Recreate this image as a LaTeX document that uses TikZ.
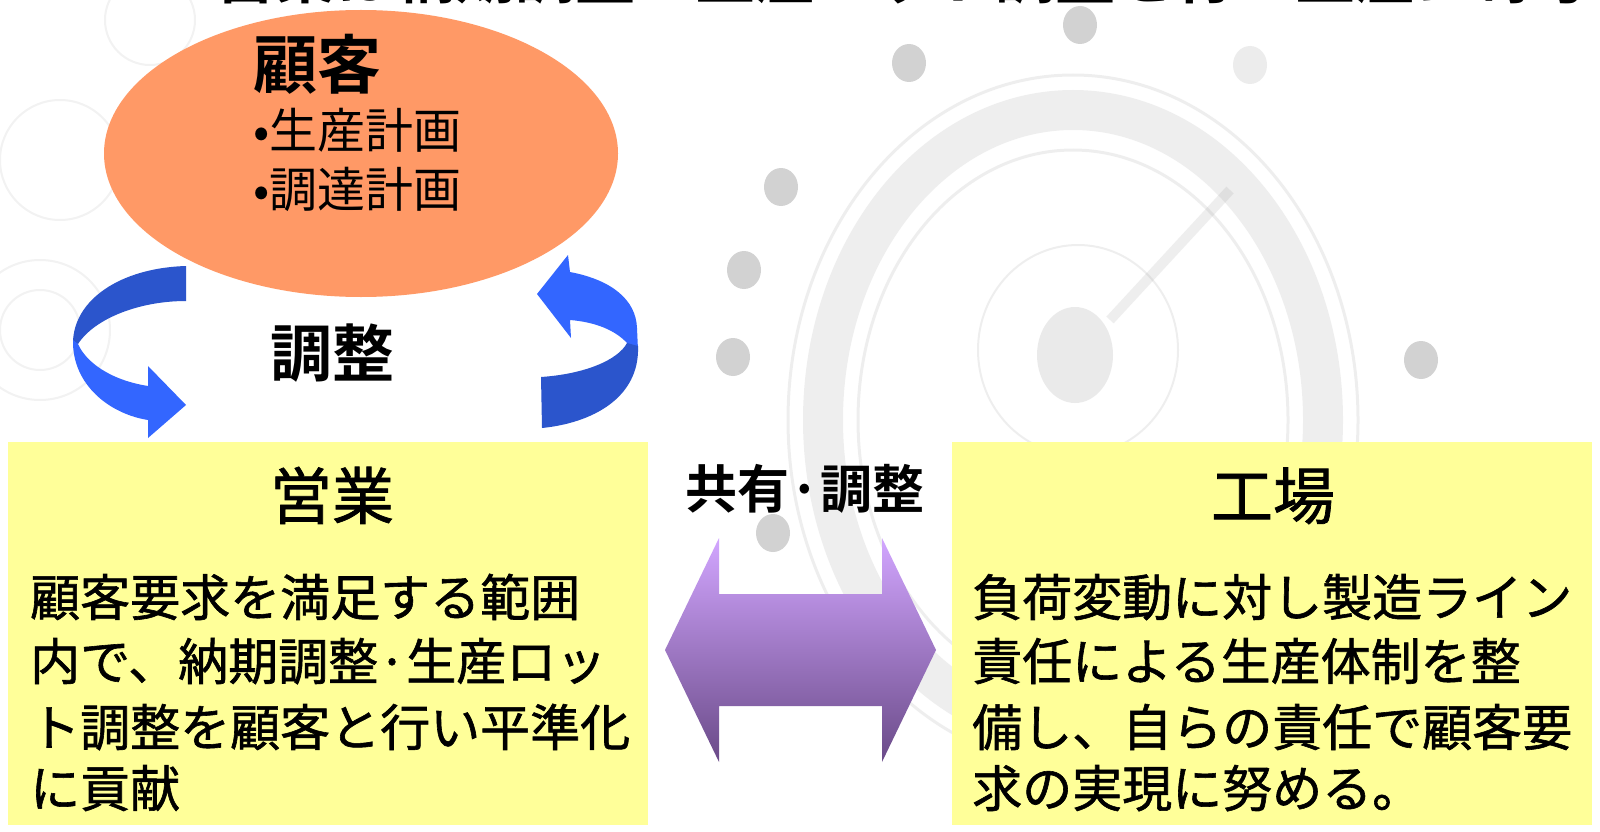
\documentclass[tikz,border=0pt]{standalone}
\usepackage{fontspec}
\setmainfont{Noto Sans CJK JP}[BoldFont={* Bold}]
\newfontfamily\jpbody{Noto Sans CJK JP}[FakeBold=1.2]
\usetikzlibrary{calc}
\definecolor{ellfill}{HTML}{FF9966}
\definecolor{boxfill}{HTML}{FFFF99}
\definecolor{bluedark}{HTML}{2B55CC}
\definecolor{bluelight}{HTML}{3366FF}
\definecolor{purtop}{HTML}{D2A6FF}
\definecolor{purbot}{HTML}{6A4A88}
\begin{document}
\begin{tikzpicture}[x=1pt,y=-1pt,
  ttl/.style={font=\fontsize{62}{62}\selectfont\bfseries, inner sep=0, anchor=base},
  ttlplain/.style={font=\jpbody\fontsize{62}{62}\selectfont, inner sep=0, anchor=base},
  bodytxt/.style={font=\jpbody\fontsize{50}{64}\selectfont, inner sep=0, anchor=base west},
  bullettxt/.style={font=\fontsize{48}{48}\selectfont, inner sep=0, anchor=base west},
  wmdot/.style={fill=gray, opacity=0.35},
  wmring/.style={draw=gray, opacity=0.13}
]
\path[use as bounding box] (0,0) rectangle (1600,832);
\clip (0,0) rectangle (1600,832);
\fill[white] (0,0) rectangle (1600,832);

% ---- faint watermark (bearing) ----
\draw[wmring, line width=40pt] (1073,420) ellipse [x radius=250pt, y radius=310pt];
\draw[wmring, line width=3pt] (1073,420) ellipse [x radius=285pt, y radius=345pt];
\draw[wmring, line width=3pt] (1073,420) ellipse [x radius=215pt, y radius=270pt];
\draw[wmring, line width=2pt] (1078,350) ellipse [x radius=100pt, y radius=105pt];
\fill[gray, opacity=0.16] (1075,355) ellipse [x radius=38pt, y radius=48pt];
\draw[wmring, line width=10pt] (1110,320) -- (1230,190);
\foreach \p in {(909,63),(1080,25),(781,187),(744,270),(733,357),(773,533),(1421,360)}
  \fill[wmdot] \p ellipse [x radius=17pt, y radius=19pt];
\fill[gray, opacity=0.15] (1250,65) ellipse [x radius=17pt, y radius=19pt];
% faint gears on the left
\draw[wmring, opacity=0.1, line width=2pt] (40,330) circle [radius=70pt];
\draw[wmring, opacity=0.1, line width=2pt] (40,330) circle [radius=40pt];
\draw[wmring, opacity=0.1, line width=2pt] (60,160) circle [radius=60pt];
\draw[wmring, opacity=0.1, line width=2pt] (150,20) circle [radius=45pt];

% ---- top sentence, cut off by the page edge ----
\node[anchor=base west, inner sep=0, font=\fontsize{60}{60}\selectfont\bfseries] (topline) at (215,-1) {営業は納期調整・生産ロット調整を行い生産に寄与};

% ---- customer ellipse ----
\fill[ellfill] (361,153.5) ellipse [x radius=257pt, y radius=143.5pt];
\coordinate (ell) at (361,153.5);
\node[ttl, anchor=base west, font=\fontsize{64}{64}\selectfont\bfseries] (kokyaku) at (253,89) {顧客};
\node[bullettxt] (plan1) at (253,149) {•生産計画};
\node[bullettxt] (plan2) at (253,207) {•調達計画};

% ---- blue curved arrows ----
% left: top dark part
\fill[bluedark] (186,266) .. controls (120,268) and (74,300) .. (73,342)
  -- (78,344) .. controls (95,318) and (140,301) .. (186,301) -- cycle;
% left: bottom light part with head
\fill[bluelight] (73,340) .. controls (72,385) and (110,414) .. (148,420)
  -- (148,438) -- (186,405) -- (148,366) -- (148,386)
  .. controls (110,380) and (86,362) .. (78,344) -- cycle;
% right: upper light part with head
\fill[bluelight] (570,272) .. controls (612,280) and (636,300) .. (637,328)
  -- (638,350) -- (627,343) .. controls (615,330) and (595,322) .. (570,320)
  -- (571,338) -- (537,294) -- (568,255) -- cycle;
% right: lower dark part
\fill[bluedark] (638,346) .. controls (640,398) and (592,423) .. (542,428)
  -- (541,377) .. controls (585,374) and (618,360) .. (627,343) -- cycle;
\node[ttl] (chosei) at (332,376) {調整};

% ---- boxes ----
\fill[boxfill] (8,442) rectangle (648,825);
\fill[boxfill] (952,442) rectangle (1592,825);
\coordinate (eigyo) at (648,650);
\coordinate (kojo) at (952,650);
\node[ttlplain] (eigyoT) at (332,519) {営業};
\node[ttlplain] (kojoT) at (1273,519) {工場};

\node[bodytxt] (s1) at (30,616) {顧客要求を満足する範囲};
\node[bodytxt] (s2) at (30,680) {内で、納期調整·生産ロッ};
\node[bodytxt] (s3) at (30,746) {ト調整を顧客と行い平準化};
\node[bodytxt] (s4) at (30,807) {に貢献};

\node[bodytxt] (f1) at (972,616) {負荷変動に対し製造ライン};
\node[bodytxt] (f2) at (972,680) {責任による生産体制を整};
\node[bodytxt] (f3) at (972,746) {備し、自らの責任で顧客要};
\node[bodytxt] (f4) at (972,807) {求の実現に努める。};

% ---- purple double arrow ----
\shade[top color=purtop, bottom color=purbot]
  (665,650) -- (719,538) -- (719,594) -- (882,594) -- (882,538) -- (936,650)
  -- (882,762) -- (882,706) -- (719,706) -- (719,762) -- cycle;
\node[ttl, font=\fontsize{52}{52}\selectfont\bfseries] (share) at (805,508) {共有·調整};
\end{tikzpicture}
\end{document}
